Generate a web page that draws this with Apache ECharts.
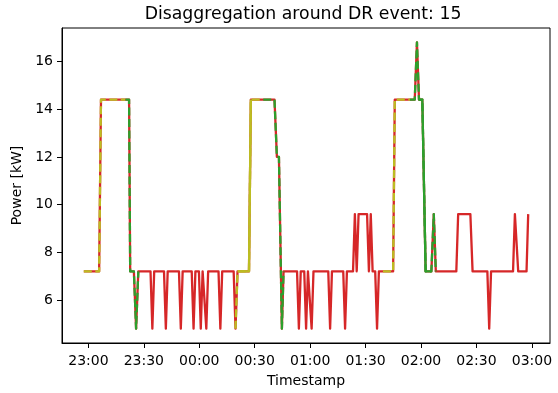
<!DOCTYPE html>
<html>
<head>
<meta charset="utf-8">
<script src="https://cdn.jsdelivr.net/npm/echarts@6/dist/echarts.min.js"></script>
<style>html,body{margin:0;padding:0;background:#fff}#c{width:558px;height:393px}</style>
</head>
<body>
<div id="c"></div>
<script>
// minutes after 22:00
const xTickMinutes = [60, 90, 120, 150, 180, 210, 240, 270, 300];
const xTickLabels = ['23:00', '23:30', '00:00', '00:30', '01:00', '01:30', '02:00', '02:30', '03:00'];
const yTicks = [6, 8, 10, 12, 14, 16];

const redTimes = [57.5, 65.8, 66.8, 82.0, 82.6, 84.6, 85.8, 87.0, 93.6, 94.6, 95.6, 100.9, 101.9, 102.9,
  109.0, 110.0, 111.0, 115.9, 116.9, 117.9, 119.8, 120.8, 121.8, 122.8, 123.8, 124.8, 130.4, 131.4, 132.4,
  138.6, 139.6, 140.7, 146.9, 147.9, 160.7, 162.0, 163.1, 164.7, 165.6, 172.9, 173.9, 174.9, 176.8, 177.8,
  178.8, 179.8, 180.8, 181.8, 189.8, 190.8, 191.8, 197.9, 198.9, 199.9, 203.2, 204.2, 205.2, 206.2, 210.8,
  211.8, 212.8, 213.8, 215.2, 216.2, 217.2, 224.9, 225.8, 236.6, 237.8, 238.9, 240.7, 242.5, 245.6, 246.9,
  248.0, 259.1, 260.1, 266.7, 267.9, 275.9, 276.9, 277.9, 289.8, 290.8, 291.6, 292.6, 297.1, 298.0];
const redPower = [7.2, 7.2, 14.4, 14.4, 7.2, 7.2, 4.8, 7.2, 7.2, 4.8, 7.2, 7.2, 4.8, 7.2,
  7.2, 4.8, 7.2, 7.2, 4.8, 7.2, 7.2, 4.8, 7.2, 7.2, 4.8, 7.2, 7.2, 4.8, 7.2,
  7.2, 4.8, 7.2, 7.2, 14.4, 14.4, 12.0, 12.0, 4.8, 7.2, 7.2, 4.8, 7.2, 7.2, 4.8,
  7.2, 7.2, 4.8, 7.2, 7.2, 4.8, 7.2, 7.2, 4.8, 7.2, 7.2, 9.6, 7.2, 9.6, 9.6,
  7.2, 9.6, 7.2, 7.2, 4.8, 7.2, 7.2, 14.4, 14.4, 16.8, 14.4, 14.4, 7.2, 7.2, 9.6,
  7.2, 7.2, 9.6, 9.6, 7.2, 7.2, 4.8, 7.2, 7.2, 9.6, 9.6, 7.2, 7.2, 9.6];

const oliveTimes = [57.5, 65.8, 66.8, 80.0, null, 139.6, 140.7, 146.9, 147.9, 154.6, null, 219.4, 224.9, 225.8, 234.0];
const olivePower = [7.2, 7.2, 14.4, 14.4, null, 4.8, 7.2, 7.2, 14.4, 14.4, null, 7.2, 7.2, 14.4, 14.4];

const greenTimes = [80.0, 82.0, 82.6, 84.6, 85.8, 87.0, null, 154.6, 160.7, 162.0, 163.1, 164.7, 165.6, null,
  234.0, 236.6, 237.8, 238.9, 240.7, 242.5, 245.6, 246.9, 248.0];
const greenPower = [14.4, 14.4, 7.2, 7.2, 4.8, 7.2, null, 14.4, 14.4, 12.0, 12.0, 4.8, 7.2, null,
  14.4, 14.4, 16.8, 14.4, 14.4, 7.2, 7.2, 9.6, 7.2];

const oliveSolidTimes = [140.7, 146.9, 147.9];
const oliveSolidPower = [7.2, 7.2, 14.4];
const greenSolidTimes = [238.9, 240.7, 242.5, 245.6];
const greenSolidPower = [14.4, 14.4, 7.2, 7.2];

function pairs(ts, vs) {
  return ts.map((t, i) => (t === null ? ['-', '-'] : [t, vs[i]]));
}

const FONT = 'DejaVu Sans';
const RED = '#d62728', OLIVE = '#bcbd22', GREEN = '#2ca02c';
const DASH = [8, 3.5];
const LW = 2.3;

function lineSeries(data, color, type) {
  return {
    type: 'line', data: data, showSymbol: false, symbol: 'none', connectNulls: false,
    lineStyle: { color: color, width: LW, type: type, join: 'round', cap: 'butt' },
    silent: true, animation: false
  };
}

const chart = echarts.init(document.getElementById('c'), null, { renderer: 'canvas' });
chart.setOption({
  animation: false,
  backgroundColor: '#ffffff',
  title: {
    text: 'Disaggregation around DR event: 15',
    left: 298, top: 1, textAlign: 'center',
    textStyle: { fontFamily: FONT, fontSize: 17.3, fontWeight: 'normal', color: '#000' }
  },
  grid: { left: 62, right: 8, top: 28, bottom: 48, show: true, borderColor: '#000', borderWidth: 1, backgroundColor: 'transparent' },
  xAxis: {
    type: 'value', min: 45.7, max: 309.8,
    name: 'Timestamp', nameLocation: 'middle', nameGap: 31,
    nameTextStyle: { fontFamily: FONT, fontSize: 14, color: '#000' },
    axisLine: { show: true, onZero: false, lineStyle: { color: '#000', width: 1 } },
    axisTick: { show: true, length: 5, lineStyle: { color: '#000', width: 1 }, customValues: xTickMinutes },
    axisLabel: {
      fontFamily: FONT, fontSize: 14, color: '#000', margin: 11, customValues: xTickMinutes,
      formatter: v => { const i = xTickMinutes.indexOf(v); return i >= 0 ? xTickLabels[i] : ''; }
    },
    splitLine: { show: false }
  },
  yAxis: {
    type: 'value', min: 4.2, max: 17.4,
    name: 'Power [kW]', nameLocation: 'middle', nameGap: 32,
    nameTextStyle: { fontFamily: FONT, fontSize: 14, color: '#000' },
    axisLine: { show: true, onZero: false, lineStyle: { color: '#000', width: 1 } },
    axisTick: { show: true, length: 5, lineStyle: { color: '#000', width: 1 }, customValues: yTicks },
    axisLabel: { fontFamily: FONT, fontSize: 14, color: '#000', margin: 9, customValues: yTicks, formatter: v => String(v) },
    splitLine: { show: false }
  },
  series: [
    lineSeries(pairs(redTimes, redPower), RED, 'solid'),
    lineSeries(pairs(oliveTimes, olivePower), OLIVE, DASH),
    lineSeries(pairs(greenTimes, greenPower), GREEN, DASH),
    lineSeries(pairs(oliveSolidTimes, oliveSolidPower), OLIVE, 'solid'),
    lineSeries(pairs(greenSolidTimes, greenSolidPower), GREEN, 'solid')
  ]
});
</script>
</body>
</html>
